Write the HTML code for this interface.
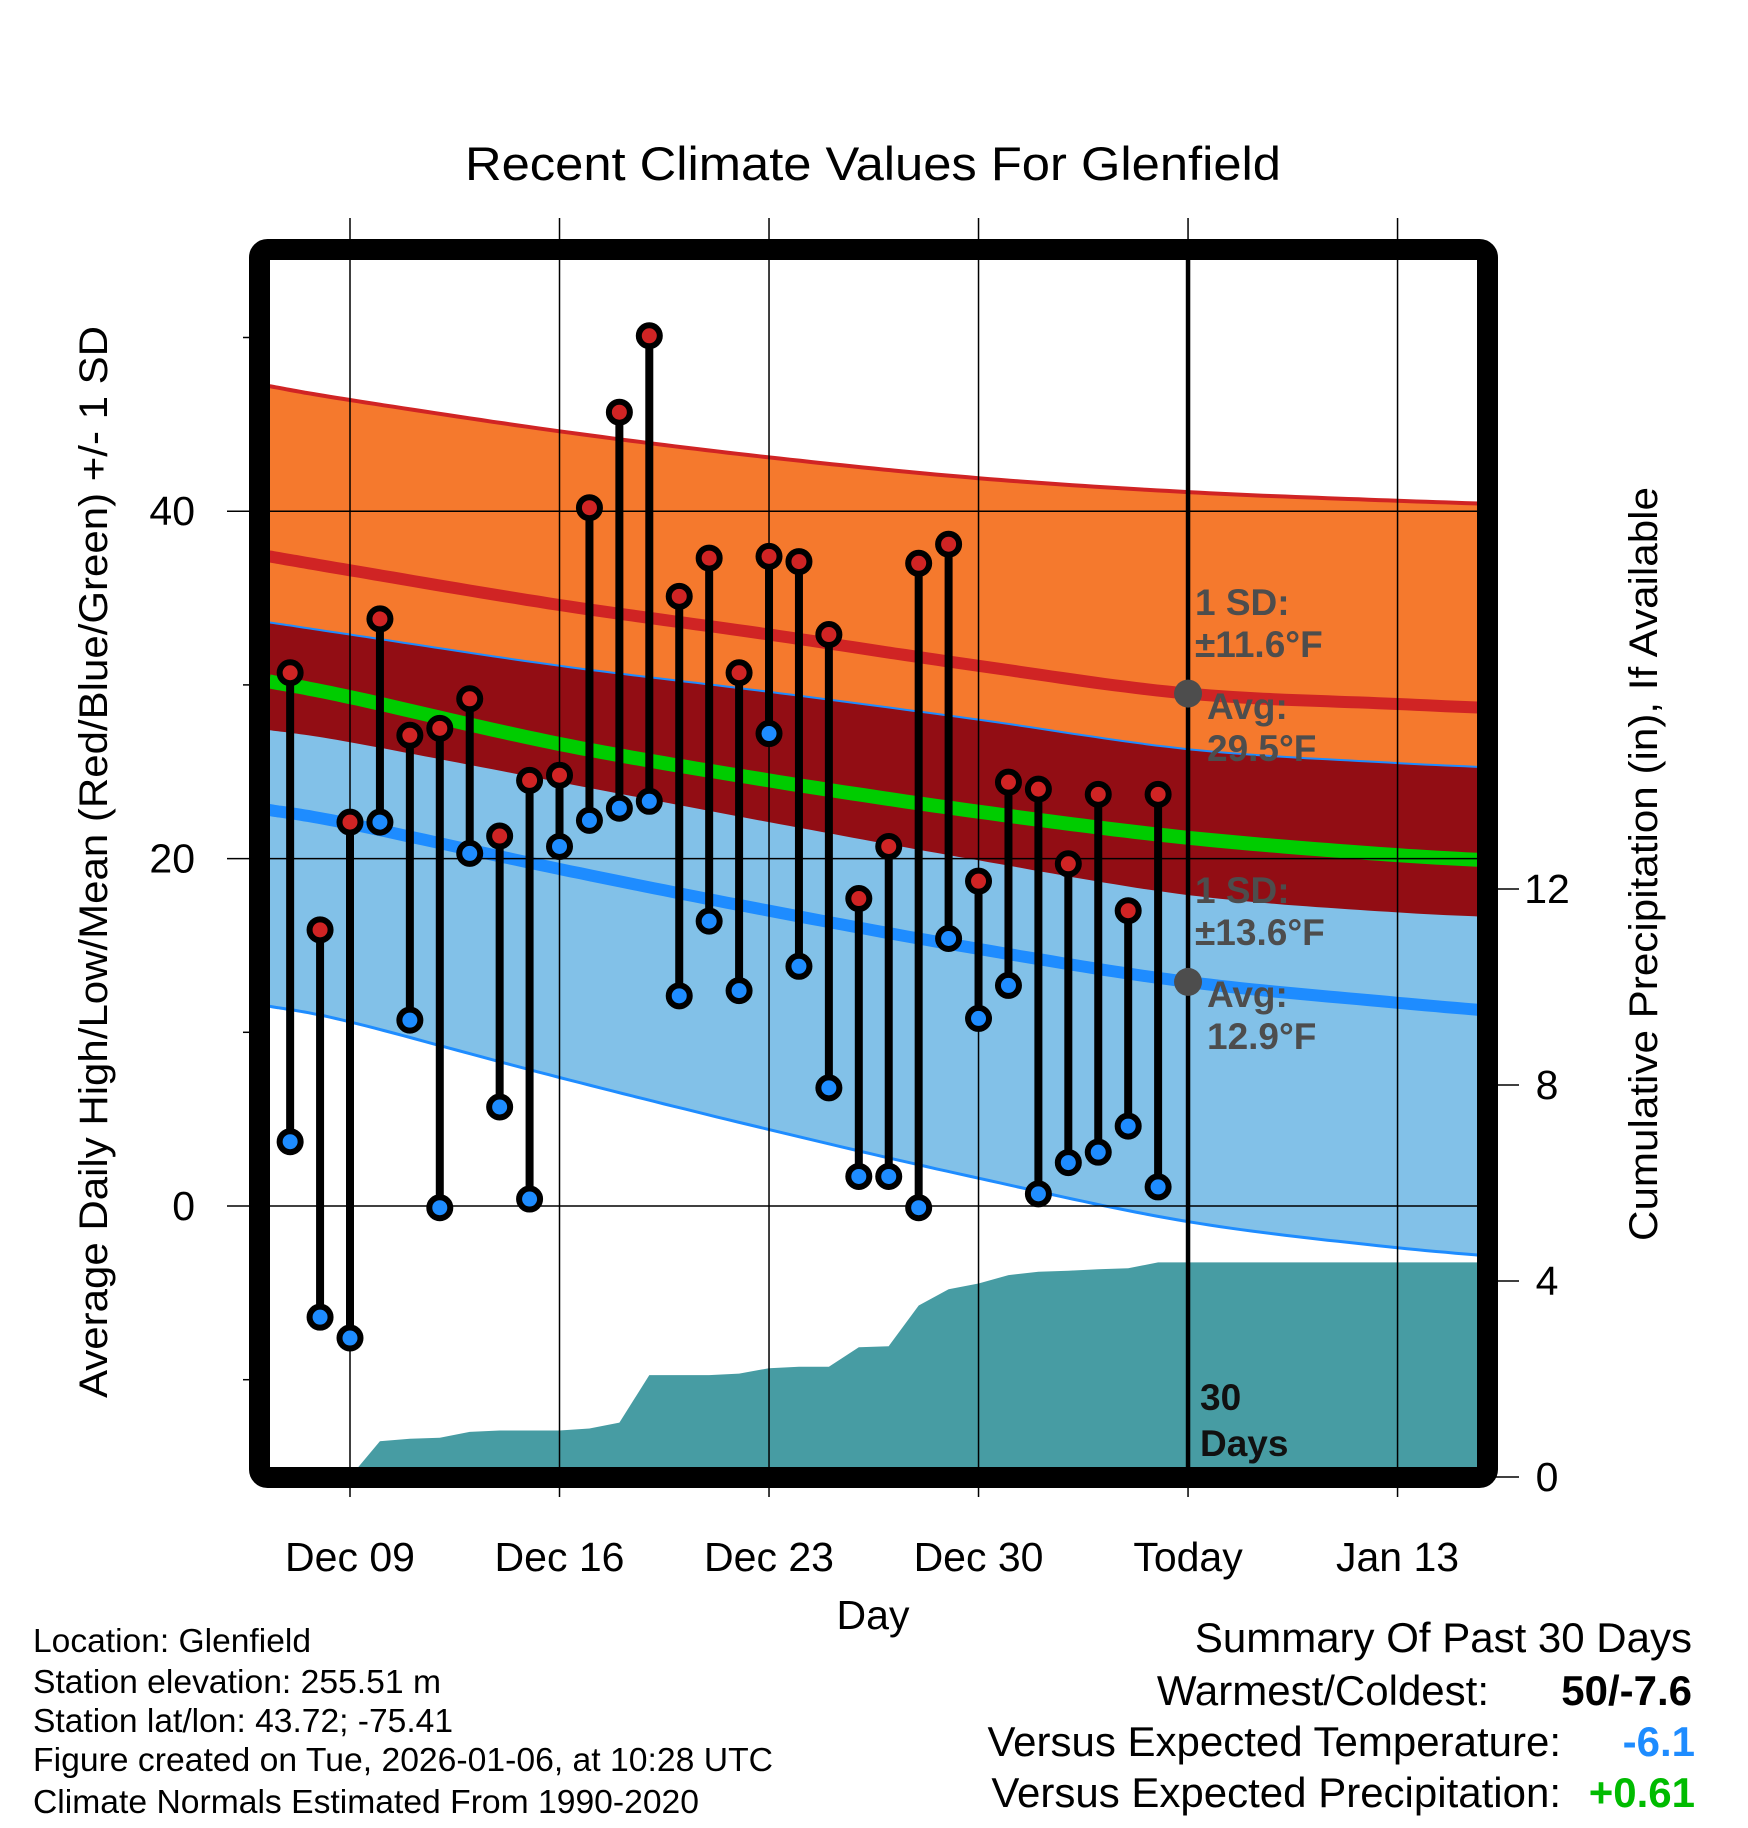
<!DOCTYPE html>
<html><head><meta charset="utf-8"><style>
html,body{margin:0;padding:0;background:#fff;}
svg{display:block;font-family:"Liberation Sans",Arial,sans-serif;}
</style></head><body>
<svg id="chart" xmlns="http://www.w3.org/2000/svg" width="1748" height="1828" viewBox="0 0 1748 1828">
<defs><clipPath id="plotclip"><rect x="270" y="260" width="1208" height="1208"/></clipPath></defs>
<g id="plot" clip-path="url(#plotclip)"></g>
<g id="over"></g>
</svg>
<script>
// ---- data ----
const obsDays = ['Dec 07','Dec 08','Dec 09','Dec 10','Dec 11','Dec 12','Dec 13','Dec 14','Dec 15','Dec 16','Dec 17','Dec 18','Dec 19','Dec 20','Dec 21','Dec 22','Dec 23','Dec 24','Dec 25','Dec 26','Dec 27','Dec 28','Dec 29','Dec 30','Dec 31','Jan 01','Jan 02','Jan 03','Jan 04','Jan 05'];
const highs = [30.7,15.9,22.1,33.8,27.1,27.5,29.2,21.3,24.5,24.8,40.2,45.7,50.1,35.1,37.3,30.7,37.4,37.1,32.9,17.7,20.7,37.0,38.1,18.7,24.4,24.0,19.7,23.7,17.0,23.7];
const lows = [3.7,-6.4,-7.6,22.1,10.7,-0.1,20.3,5.7,0.4,20.7,22.2,22.9,23.3,12.1,16.4,12.4,27.2,13.8,6.8,1.7,1.7,-0.1,15.4,10.8,12.7,0.7,2.5,3.1,4.6,1.1];
const precip = [0,0,0,0.73,0.78,0.80,0.92,0.95,0.95,0.95,0.99,1.11,2.08,2.08,2.08,2.11,2.22,2.25,2.25,2.65,2.67,3.50,3.83,3.95,4.12,4.19,4.21,4.24,4.26,4.38];
const normDays = [-2.7,0,7,14,21,28,35,40.5];
const highUpper = [47.2,46.4,44.6,43.1,41.9,41.1,40.6,40.3];
const avgHigh = [37.4,36.6,34.6,32.9,31.1,29.5,28.9,28.5];
const highLower = [27.4,26.7,24.4,22.1,19.9,17.9,16.9,16.5];
const lowUpper = [33.6,32.9,31.1,29.6,28.0,26.3,25.5,25.1];
const avgLow = [22.8,22.0,19.4,17.0,14.8,12.9,11.7,10.9];
const lowLower = [11.5,10.6,7.4,4.4,1.6,-0.9,-2.4,-3.2];
const meanT = [30.2,29.3,26.6,24.5,22.7,21.2,20.2,19.7];
const xTickLabels = ['Dec 09','Dec 16','Dec 23','Dec 30','Today','Jan 13'];
const yTicks = [0,20,40];
const yMinor = [-10,10,30,50];
const pTicks = [0,4,8,12];
const firstObsDay = -2; // Dec 07 relative to Dec 09
const todayDay = 28;

// ---- axes ----
const X = d => 350 + d*29.93;
const Y = v => 1206 - v*17.37;
const P = p => 1477 - p*49;
const NS = 'http://www.w3.org/2000/svg';
const plot = document.getElementById('plot');
const over = document.getElementById('over');
function mk(tag, attrs, parent){const e=document.createElementNS(NS,tag);for(const k in attrs)e.setAttribute(k,attrs[k]);parent.appendChild(e);return e;}
// smooth (catmull-rom) sampling of normals
function smooth(vals){
  const out=[];
  const n=normDays.length;
  for(let i=0;i<n-1;i++){
    const p0=[X(normDays[Math.max(0,i-1)]),Y(vals[Math.max(0,i-1)])];
    const p1=[X(normDays[i]),Y(vals[i])];
    const p2=[X(normDays[i+1]),Y(vals[i+1])];
    const p3=[X(normDays[Math.min(n-1,i+2)]),Y(vals[Math.min(n-1,i+2)])];
    for(let s=0;s<20;s++){
      const t=s/20,t2=t*t,t3=t2*t;
      const f=(a,b,c,d)=>0.5*((2*b)+(-a+c)*t+(2*a-5*b+4*c-d)*t2+(-a+3*b-3*c+d)*t3);
      out.push(f(p0[0],p1[0],p2[0],p3[0]).toFixed(1)+','+f(p0[1],p1[1],p2[1],p3[1]).toFixed(1));
    }
  }
  out.push(X(normDays[n-1]).toFixed(1)+','+Y(vals[n-1]).toFixed(1));
  return out;
}
function band(up, lo, fill, name){
  const p = smooth(up).concat(smooth(lo).reverse());
  const e = mk('polygon',{points:p.join(' '),fill:fill},plot);
  
  
}
function line(vals, color, w, name){
  const e = mk('polyline',{points:smooth(vals).join(' '),fill:'none',stroke:color,'stroke-width':w},plot);
  
  
}
band(highUpper, highLower, '#f5792d', 'high-sd-band');
band(lowUpper, lowLower, '#82c1e8', 'low-sd-band');
band(lowUpper, highLower, '#920d14', 'overlap-band');
line(highUpper, '#d02424', 4, 'high-upper-line');
line(lowUpper, '#1e8cff', 2, 'low-upper-line');
line(lowLower, '#1e8cff', 3, 'low-lower-line');
line(avgHigh, '#d02424', 12, 'avg-high-line');
line(meanT, '#00cc00', 14, 'mean-temp-line');
line(avgLow, '#1e8cff', 12, 'avg-low-line');

// precip area
{
  let p = [];
  precip.forEach((v,i)=>p.push(X(firstObsDay+i).toFixed(1)+','+P(v).toFixed(1)));
  const last = precip[precip.length-1];
  p.push(X(41)+','+P(last)); p.push(X(41)+','+P(-0.5)); p.push(X(firstObsDay)+','+P(-0.5));
  const e = mk('polygon',{points:p.join(' '),fill:'#479ca3'},plot);
  
  
}

// grid lines
for (let i=0;i<6;i++){
  const e = mk('line',{x1:X(i*7),x2:X(i*7),y1:218,y2:1497,stroke:'#000','stroke-width':1.5},over);
  
  
  const t = mk('text',{x:X(i*7),y:1571,'font-size':41,'text-anchor':'middle'},over);
  t.textContent = xTickLabels[i];
  
  
}
yTicks.forEach(v=>{
  const e = mk('line',{x1:227,x2:1478,y1:Y(v),y2:Y(v),stroke:'#000','stroke-width':1.5},over);
  
  
  const t = mk('text',{x:195,y:Y(v)+14,'font-size':41,'text-anchor':'end'},over);
  t.textContent = v;
  
  
});
yMinor.forEach(v=>{
  const e = mk('line',{x1:243,x2:252,y1:Y(v),y2:Y(v),stroke:'#000','stroke-width':1.5},over);
  
  
});
pTicks.forEach(v=>{
  const e = mk('line',{x1:1490,x2:1519,y1:P(v),y2:P(v),stroke:'#000','stroke-width':1.5},over);
  
  
  const t = mk('text',{x:1547,y:P(v)+14,'font-size':41,'text-anchor':'middle'},over);
  t.textContent = v;
  
  
});

// today line
{
  const e = mk('line',{x1:X(todayDay),x2:X(todayDay),y1:260,y2:1470,stroke:'#000','stroke-width':4.5},over);
  
  
}

// stems and markers
highs.forEach((h,i)=>{
  const x = X(firstObsDay+i);
  const s = mk('line',{x1:x,x2:x,y1:Y(h),y2:Y(lows[i]),stroke:'#000','stroke-width':8},over);
  
  
});
highs.forEach((h,i)=>{
  const x = X(firstObsDay+i);
  const a = mk('circle',{cx:x,cy:Y(h),r:10.5,fill:'#d02424',stroke:'#000','stroke-width':6},over);
  
  
  const b = mk('circle',{cx:x,cy:Y(lows[i]),r:10.5,fill:'#1e8cff',stroke:'#000','stroke-width':6},over);
  
  
});

// today avg dots
[avgHigh[5], avgLow[5]].forEach(v=>{
  const e = mk('circle',{cx:X(todayDay),cy:Y(v),r:14,fill:'#4d4d4d'},over);
  
  
});

// frame
{
  const e = mk('rect',{x:259.5,y:249.5,width:1228,height:1228,rx:8,fill:'none',stroke:'#000','stroke-width':21},over);
  
  
}
</script>
<svg style="position:absolute;left:0;top:0" width="1748" height="1828" xmlns="http://www.w3.org/2000/svg">
<g font-family="Liberation Sans, Arial, sans-serif">
<text x="873" y="180" font-size="47" text-anchor="middle" textLength="816" lengthAdjust="spacingAndGlyphs">Recent Climate Values For Glenfield</text>
<text transform="translate(107,862) rotate(-90)" font-size="40" text-anchor="middle" textLength="1072" lengthAdjust="spacingAndGlyphs">Average Daily High/Low/Mean (Red/Blue/Green) +/- 1 SD</text>
<text transform="translate(1657,864) rotate(-90)" font-size="40" text-anchor="middle" textLength="754" lengthAdjust="spacingAndGlyphs">Cumulative Precipitation (in), If Available</text>
<text x="873" y="1629" font-size="41" text-anchor="middle">Day</text>
<g font-weight="bold" font-size="37" fill="#4d4d4d">
<text x="1195" y="615">1 SD:</text>
<text x="1195" y="657">±11.6°F</text>
<text x="1207" y="719">Avg:</text>
<text x="1207" y="761">29.5°F</text>
<text x="1195" y="903">1 SD:</text>
<text x="1195" y="945">±13.6°F</text>
<text x="1207" y="1007">Avg:</text>
<text x="1207" y="1049">12.9°F</text>
</g>
<g font-weight="bold" font-size="37" fill="#111">
<text x="1200" y="1410">30</text>
<text x="1200" y="1456">Days</text>
</g>
<g font-size="33">
<text x="33" y="1652" textLength="278" lengthAdjust="spacingAndGlyphs">Location: Glenfield</text>
<text x="33" y="1693" textLength="408" lengthAdjust="spacingAndGlyphs">Station elevation: 255.51 m</text>
<text x="33" y="1732" textLength="420" lengthAdjust="spacingAndGlyphs">Station lat/lon: 43.72; -75.41</text>
<text x="33" y="1771" textLength="740" lengthAdjust="spacingAndGlyphs">Figure created on Tue, 2026-01-06, at 10:28 UTC</text>
<text x="33" y="1813" textLength="666" lengthAdjust="spacingAndGlyphs">Climate Normals Estimated From 1990-2020</text>
</g>
<g font-size="42" text-anchor="end">
<text x="1692" y="1652">Summary Of Past 30 Days</text>
<text x="1489" y="1705">Warmest/Coldest:</text>
<text x="1692" y="1705" font-weight="bold">50/-7.6</text>
<text x="1561" y="1756">Versus Expected Temperature:</text>
<text x="1695" y="1756" font-weight="bold" fill="#1e8cff">-6.1</text>
<text x="1561" y="1807">Versus Expected Precipitation:</text>
<text x="1695" y="1807" font-weight="bold" fill="#00bb00">+0.61</text>
</g>
</g>
</svg>
</body></html>
